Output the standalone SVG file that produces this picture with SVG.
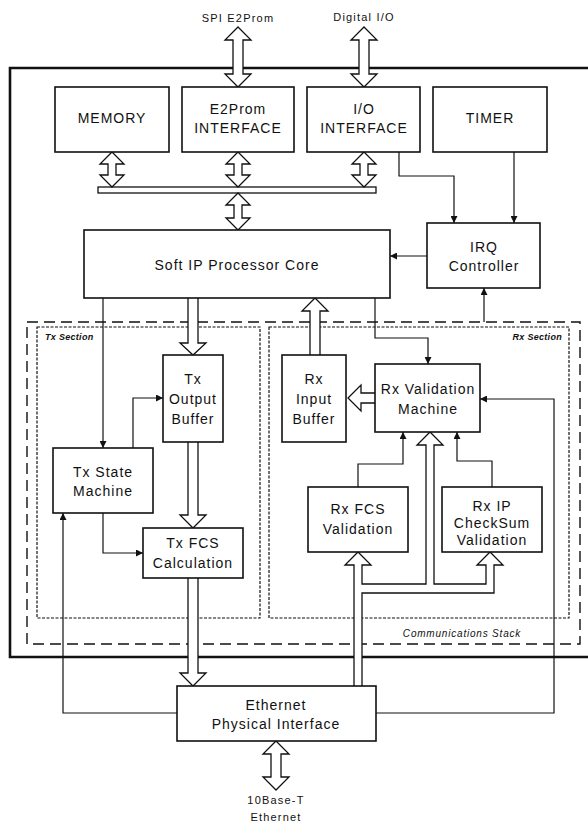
<svg xmlns="http://www.w3.org/2000/svg" width="588" height="823" viewBox="0 0 588 823">
<style>
.box{fill:#fff;stroke:#111;stroke-width:1.6}
.t{font-family:"Liberation Sans",Arial,sans-serif;font-size:14px;letter-spacing:1px;fill:#111;text-anchor:middle}
.s{font-family:"Liberation Sans",Arial,sans-serif;font-size:11px;letter-spacing:1.2px;fill:#111;text-anchor:middle}
.lbl{font-family:"Liberation Sans",Arial,sans-serif;font-size:9px;font-style:italic;font-weight:bold;letter-spacing:0.3px;fill:#111}
.line{fill:none;stroke:#111;stroke-width:1.2}
.hollow{fill:#fff;stroke:#111;stroke-width:1.3;stroke-linejoin:miter}
.dash{fill:none;stroke:#111;stroke-width:1.4;stroke-dasharray:11 6}
.dot{fill:none;stroke:#111;stroke-width:1.2;stroke-dasharray:3 1.5}
</style>
<defs>
<marker id="ah" viewBox="0 0 10 10" refX="10" refY="5" markerWidth="8" markerHeight="7" orient="auto" markerUnits="userSpaceOnUse"><path d="M0,0 L10,5 L0,10 z" fill="#111"/></marker>
</defs>
<rect width="588" height="823" fill="#fff"/>

<g id="chip">
<path d="M592,68 H10 V657 H592" fill="none" stroke="#111" stroke-width="2.6"/>
</g>
<g id="comms-stack">
<rect x="27" y="322" width="553" height="322" class="dash"/>
<text x="462" y="637" class="lbl" style="font-size:10px;font-weight:normal;letter-spacing:0.8px" text-anchor="middle">Communications Stack</text>
</g>
<g id="tx-section">
<rect x="37" y="327" width="223" height="291" class="dot"/>
<text x="45" y="340" class="lbl">Tx Section</text>
</g>
<g id="rx-section">
<rect x="269" y="327" width="300" height="291" class="dot"/>
<text x="562" y="340" class="lbl" text-anchor="end">Rx Section</text>
</g>

<g id="connectors">
<path class="line" d="M399,152 V176 H454 V223" marker-end="url(#ah)"/>
<path class="line" d="M514,152 V223" marker-end="url(#ah)"/>
<path class="line" d="M427,256 H390" marker-end="url(#ah)"/>
<path class="line" d="M484,322 V288" marker-end="url(#ah)"/>
<path class="line" d="M103,298 V448" marker-end="url(#ah)"/>
<path class="line" d="M133,448 V398 H163" marker-end="url(#ah)"/>
<path class="line" d="M103,513 V553 H143" marker-end="url(#ah)"/>
<path class="line" d="M177,713 H63 V513" marker-end="url(#ah)"/>
<path class="line" d="M375,298 V338 H428 V364" marker-end="url(#ah)"/>
<path class="line" d="M376,713 H554 V399 H480" marker-end="url(#ah)"/>
<path class="line" d="M358,487 V464 H403 V432" marker-end="url(#ah)"/>
<path class="line" d="M492,487 V461 H457 V432" marker-end="url(#ah)"/>
<rect x="98" y="187" width="278" height="6" fill="#fff" stroke="#111" stroke-width="1.3"/>
<path class="hollow" d="M238,27 L251,40 H243 V74 H251 L238,87 L225,74 H233 V40 H225 Z"/>
<path class="hollow" d="M364,27 L377,40 H369 V74 H377 L364,87 L351,74 H359 V40 H351 Z"/>
<path class="hollow" d="M112,152 L124,164 H116 V175 H124 L112,187 L100,175 H108 V164 H100 Z"/>
<path class="hollow" d="M238,152 L250,164 H242 V175 H250 L238,187 L226,175 H234 V164 H226 Z"/>
<path class="hollow" d="M364,152 L376,164 H368 V175 H376 L364,187 L352,175 H360 V164 H352 Z"/>
<path class="hollow" d="M238,193 L250,205 H242 V218 H250 L238,230 L226,218 H234 V205 H226 Z"/>
<path class="hollow" d="M276,741 L289,754 H281 V777 H289 L276,790 L263,777 H271 V754 H263 Z"/>
<path class="hollow" d="M188,298 V343 H180 L193,355 L206,343 H198 V298"/>
<path class="hollow" d="M188,442 V515 H180 L193,528 L206,515 H198 V442"/>
<path class="hollow" d="M188,578 V673 H180 L193,686 L206,673 H198 V578"/>
<path class="hollow" d="M310,355 V311 H302 L315,298 L328,311 H320 V355"/>
<path class="hollow" d="M375,393 H361 V385 L348,398 L361,411 V403 H375"/>
<path class="hollow" d="M354,686 V565 H345 L358,552 L371,565 H362 V584 H426 V445 H417 L430,432 L443,445 H434 V584 H486 V565 H477 L490,552 L503,565 H494 V593 H362 V686"/>
</g>

<g id="spi-label"><text x="238" y="22" class="s">SPI E2Prom</text></g>
<g id="digital-label"><text x="364" y="21" class="s">Digital I/O</text></g>

<g id="memory"><rect x="55" y="87" width="114" height="65" class="box"/><text x="112" y="123" class="t">MEMORY</text></g>
<g id="e2prom-interface"><rect x="182" y="87" width="112" height="65" class="box"/><text x="238" y="114" class="t">E2Prom</text><text x="238" y="133" class="t">INTERFACE</text></g>
<g id="io-interface"><rect x="307" y="87" width="113" height="65" class="box"/><text x="364" y="114" class="t">I/O</text><text x="364" y="133" class="t">INTERFACE</text></g>
<g id="timer"><rect x="433" y="87" width="114" height="65" class="box"/><text x="490" y="123" class="t">TIMER</text></g>
<g id="processor-core"><rect x="84" y="230" width="306" height="68" class="box"/><text x="237" y="270" class="t">Soft IP Processor Core</text></g>
<g id="irq-controller"><rect x="427" y="223" width="113" height="65" class="box"/><text x="484" y="252" class="t">IRQ</text><text x="484" y="271" class="t">Controller</text></g>
<g id="tx-output-buffer"><rect x="163" y="355" width="60" height="87" class="box"/><text x="193" y="384" class="t">Tx</text><text x="193" y="404" class="t">Output</text><text x="193" y="424" class="t">Buffer</text></g>
<g id="tx-state-machine"><rect x="53" y="448" width="100" height="65" class="box"/><text x="103" y="477" class="t">Tx State</text><text x="103" y="496" class="t">Machine</text></g>
<g id="tx-fcs"><rect x="143" y="528" width="100" height="50" class="box"/><text x="193" y="548" class="t">Tx FCS</text><text x="193" y="568" class="t">Calculation</text></g>
<g id="rx-input-buffer"><rect x="282" y="355" width="64" height="87" class="box"/><text x="314" y="384" class="t">Rx</text><text x="314" y="404" class="t">Input</text><text x="314" y="424" class="t">Buffer</text></g>
<g id="rx-validation-machine"><rect x="375" y="364" width="105" height="68" class="box"/><text x="428" y="394" class="t">Rx Validation</text><text x="428" y="414" class="t">Machine</text></g>
<g id="rx-fcs"><rect x="308" y="487" width="100" height="65" class="box"/><text x="358" y="514" class="t">Rx FCS</text><text x="358" y="534" class="t">Validation</text></g>
<g id="rx-ip-checksum"><rect x="442" y="487" width="100" height="65" class="box"/><text x="492" y="511" class="t">Rx IP</text><text x="492" y="528" class="t">CheckSum</text><text x="492" y="545" class="t">Validation</text></g>
<g id="ethernet-phy"><rect x="177" y="686" width="199" height="55" class="box"/><text x="276" y="710" class="t">Ethernet</text><text x="276" y="729" class="t">Physical Interface</text></g>
<g id="ethernet-label"><text x="276" y="804" class="s">10Base-T</text><text x="276" y="821" class="s">Ethernet</text></g>
</svg>
